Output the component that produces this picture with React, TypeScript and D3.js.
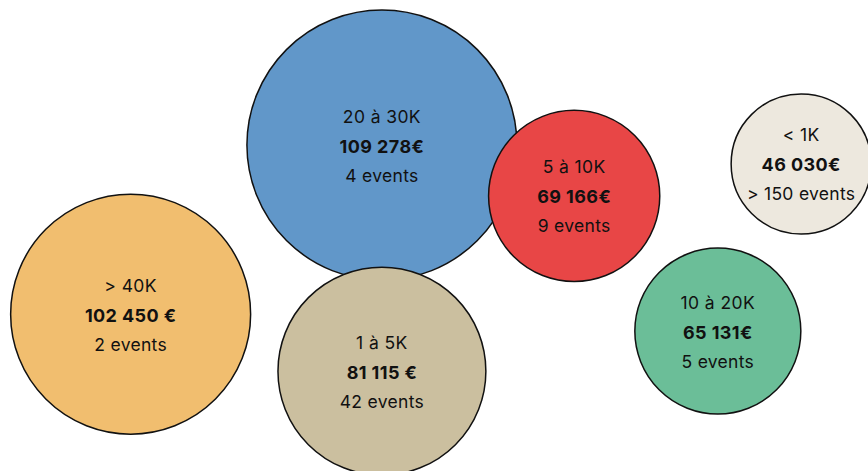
import React from "react";
import * as d3 from "d3";

// Data
const categories = ["20 à 30K", "5 à 10K", "< 1K", "> 40K", "10 à 20K", "1 à 5K"];
const amounts = ["109 278€", "69 166€", "46 030€", "102 450 €", "65 131€", "81 115 €"];
const events = ["4 events", "9 events", "> 150 events", "2 events", "5 events", "42 events"];
// relative bubble weight (area, max = 100)
const weights = [100, 40.2, 26.9, 79, 37.8, 59.3];
// layout positions in a 0–100 normalized frame
const layoutX = [44.0, 66.15, 92.3, 15.05, 82.7, 44.0];
const layoutY = [30.8, 41.6, 34.8, 66.7, 70.3, 78.8];
const colors = ["#6197c9", "#e84646", "#ede8de", "#f1be6f", "#6bbe98", "#cbbf9f"];

const W = 868;
const H = 471;

export default function App() {
  const x = d3.scaleLinear().domain([0, 100]).range([0, W]);
  const y = d3.scaleLinear().domain([0, 100]).range([0, H]);
  const r = d3.scaleSqrt().domain([0, 100]).range([0, 135]);

  const data = categories.map((c, i) => ({
    c,
    amount: amounts[i],
    ev: events[i],
    w: weights[i],
    x: layoutX[i],
    y: layoutY[i],
    color: colors[i],
  }));

  const font = "Inter, 'Noto Sans', sans-serif";

  return (
    <div style={{ position: "fixed", left: 0, top: 0, width: W, height: H, background: "#fff" }}>
      <svg width={W} height={H} style={{ display: "block" }}>
        {data.map((d, i) => {
          const cx = x(d.x);
          const cy = y(d.y);
          return (
            <g key={i}>
              <circle cx={cx} cy={cy} r={r(d.w)} fill={d.color} stroke="#111" strokeWidth={1.5} />
              <text
                x={cx}
                y={cy - 29}
                textAnchor="middle"
                dominantBaseline="central"
                fontFamily={font}
                fontSize={17.5}
                letterSpacing={0.4}
                fill="#111"
              >
                {d.c}
              </text>
              <text
                x={cx}
                y={cy + 1}
                textAnchor="middle"
                dominantBaseline="central"
                fontFamily={font}
                fontSize={18}
                fontWeight={700}
                letterSpacing={0.4}
                fill="#111"
              >
                {d.amount}
              </text>
              <text
                x={cx}
                y={cy + 30}
                textAnchor="middle"
                dominantBaseline="central"
                fontFamily={font}
                fontSize={17.5}
                letterSpacing={0.3}
                fill="#111"
              >
                {d.ev}
              </text>
            </g>
          );
        })}
      </svg>
    </div>
  );
}
